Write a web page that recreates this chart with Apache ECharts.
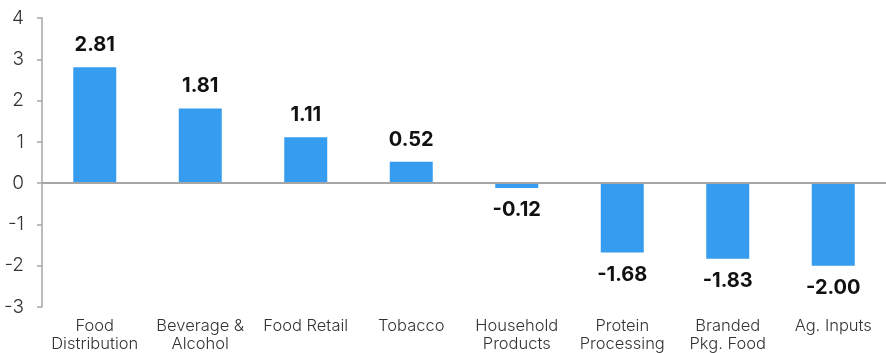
<!DOCTYPE html>
<html>
<head>
<meta charset="utf-8">
<script src="https://cdn.jsdelivr.net/npm/echarts@6/dist/echarts.min.js"></script>
<style>
  html, body { margin: 0; padding: 0; background: #fff; }
  #chart { width: 886px; height: 353px; }
</style>
</head>
<body>
<div id="chart"></div>
<script>
// Sector scores, one bar per sector
const categories = [
  'Food\nDistribution', 'Beverage &\nAlcohol', 'Food Retail', 'Tobacco',
  'Household\nProducts', 'Protein\nProcessing', 'Branded\nPkg. Food', 'Ag. Inputs'
];
const values = [2.81, 1.81, 1.11, 0.52, -0.12, -1.68, -1.83, -2.00];
const yMin = -3;
const yMax = 4;
const yStep = 1;

const FONT = 'Inter, "Open Sans", sans-serif';

const chart = echarts.init(document.getElementById('chart'), null, { renderer: 'canvas' });

chart.setOption({
  animation: false,
  backgroundColor: '#ffffff',
  grid: { left: 42, right: 0, top: 18, bottom: 46, containLabel: false },
  xAxis: {
    type: 'category',
    data: categories,
    position: 'bottom',
    axisLine: { show: false, onZero: false },
    axisTick: { show: false },
    axisLabel: {
      interval: 0,
      margin: 10,
      color: '#333333',
      fontFamily: FONT,
      fontWeight: 300,
      fontSize: 16.5,
      lineHeight: 18
    },
    splitLine: { show: false }
  },
  yAxis: {
    type: 'value',
    min: yMin,
    max: yMax,
    interval: yStep,
    axisLine: { show: true, lineStyle: { color: '#a6a6a6', width: 1.5 } },
    axisTick: { show: true, inside: false, length: 5, lineStyle: { color: '#a6a6a6', width: 1.5 } },
    axisLabel: {
      margin: 18,
      color: '#333333',
      fontFamily: FONT,
      fontWeight: 300,
      fontSize: 19
    },
    splitLine: { show: false }
  },
  series: [{
    type: 'bar',
    data: values.map(v => ({
      value: v,
      label: { position: v >= 0 ? 'top' : 'bottom' }
    })),
    barWidth: 43,
    itemStyle: { color: '#359cef' },
    label: {
      show: true,
      distance: 12,
      color: '#111111',
      fontFamily: FONT,
      fontWeight: 'bold',
      fontSize: 20,
      formatter: p => p.value.toFixed(2)
    },
    markLine: {
      silent: true,
      symbol: ['none', 'none'],
      label: { show: false },
      lineStyle: { color: '#a6a6a6', width: 2, type: 'solid' },
      data: [{ yAxis: 0 }]
    },
    z: 2
  }]
});
</script>
</body>
</html>
